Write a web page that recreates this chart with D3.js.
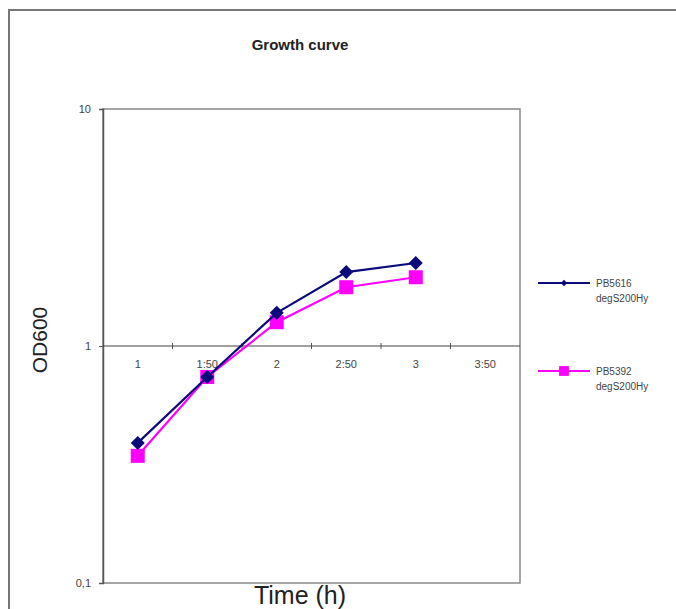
<!DOCTYPE html>
<html>
<head>
<meta charset="utf-8">
<script src="https://cdn.jsdelivr.net/npm/d3@7"></script>
<style>
body { margin: 0; background: #fff; }
svg { font-family: Arial, "Liberation Sans", sans-serif; }
</style>
</head>
<body>
<div class="chart"></div>
<script>
// chart data
var categories = ["1", "1:50", "2", "2:50", "3", "3:50"];
var seriesNames = ["PB5616 degS200Hy", "PB5392 degS200Hy"];
var pb5616 = [0.39, 0.74, 1.38, 2.05, 2.24];
var pb5392 = [0.344, 0.74, 1.26, 1.77, 1.95];
var yTicks = [0.1, 1, 10];
var yTickLabels = ["0,1", "1", "10"];

var width = 676, height = 609;
var plot = { left: 103, top: 109, right: 520, bottom: 583 };

var svg = d3.select(".chart").append("svg")
	.attr("width", width)
	.attr("height", height);

// outer chart frame
svg.append("path")
	.attr("d", "M9," + height + "V10H" + width)
	.attr("fill", "none")
	.attr("stroke", "#777")
	.attr("stroke-width", 2);

var x = d3.scaleBand()
	.domain(categories)
	.range([plot.left, plot.right]);

var y = d3.scaleLog()
	.domain([0.1, 10])
	.range([plot.bottom, plot.top]);

// plot area border
svg.append("rect")
	.attr("x", plot.left)
	.attr("y", plot.top)
	.attr("width", plot.right - plot.left)
	.attr("height", plot.bottom - plot.top)
	.attr("fill", "none")
	.attr("stroke", "#888")
	.attr("stroke-width", 1.5);

// y axis
var yAxis = svg.append("g")
	.attr("transform", "translate(" + plot.left + ",0)")
	.call(d3.axisLeft(y).tickValues(yTicks).tickSize(4).tickFormat(function(d, i) { return yTickLabels[i]; }));
yAxis.select(".domain").attr("stroke", "#555").attr("stroke-width", 1.5);
yAxis.selectAll(".tick line").attr("stroke", "#555");
yAxis.selectAll("text")
	.attr("fill", "#444")
	.attr("font-size", 11)
	.attr("x", -12);

// x axis crossing at 1
var xAxisY = y(1);
var xg = svg.append("g").attr("transform", "translate(0," + xAxisY + ")");
xg.append("line")
	.attr("x1", plot.left).attr("x2", plot.right)
	.attr("stroke", "#444").attr("stroke-width", 1.2);
xg.selectAll(".tk")
	.data(categories.slice(1))
	.enter().append("line")
	.attr("x1", function(d) { return x(d); })
	.attr("x2", function(d) { return x(d); })
	.attr("y1", -3).attr("y2", 3)
	.attr("stroke", "#555");
xg.selectAll("text")
	.data(categories)
	.enter().append("text")
	.attr("x", function(d) { return x(d) + x.bandwidth() / 2; })
	.attr("y", 22)
	.attr("text-anchor", "middle")
	.attr("font-size", 11)
	.attr("fill", "#444")
	.text(function(d) { return d; });

// lines
var line = d3.line()
	.x(function(d, i) { return x(categories[i]) + x.bandwidth() / 2; })
	.y(function(d) { return y(d); });

var series = [
	{ name: seriesNames[0], values: pb5616, color: "#0a0a7a", marker: "diamond" },
	{ name: seriesNames[1], values: pb5392, color: "#ff00ff", marker: "square" }
];

function drawMarker(g, type, color) {
	if (type === "square") {
		g.append("rect")
			.attr("x", -7).attr("y", -7)
			.attr("width", 14).attr("height", 14)
			.attr("fill", color);
	} else {
		g.append("path")
			.attr("d", "M0,-7L7,0L0,7L-7,0Z")
			.attr("fill", color);
	}
}

// draw magenta first, blue on top
[series[1], series[0]].forEach(function(s) {
	svg.append("path")
		.datum(s.values)
		.attr("d", line)
		.attr("fill", "none")
		.attr("stroke", s.color)
		.attr("stroke-width", 2.2);
	s.values.forEach(function(v, i) {
		var g = svg.append("g")
			.attr("transform", "translate(" + (x(categories[i]) + x.bandwidth() / 2) + "," + y(v) + ")");
		drawMarker(g, s.marker, s.color);
	});
});

// legend
var legendY = [283, 371];
series.forEach(function(s, i) {
	var g = svg.append("g").attr("transform", "translate(538," + legendY[i] + ")");
	g.append("line")
		.attr("x1", 0).attr("x2", 52)
		.attr("stroke", s.color).attr("stroke-width", 2);
	var mg = g.append("g").attr("transform", "translate(26,0)" + (s.marker === "square" ? " scale(0.7)" : " scale(0.45)"));
	drawMarker(mg, s.marker, s.color);
	var parts = s.name.split(" ");
	g.append("text").attr("x", 58).attr("y", 4)
		.attr("font-size", 10).attr("fill", "#444").text(parts[0]);
	g.append("text").attr("x", 58).attr("y", 19)
		.attr("font-size", 10).attr("fill", "#444").text(parts[1]);
});

// titles
svg.append("text")
	.attr("x", 300).attr("y", 50)
	.attr("text-anchor", "middle")
	.attr("font-size", 15)
	.attr("font-weight", "bold")
	.attr("fill", "#222")
	.text("Growth curve");

svg.append("text")
	.attr("transform", "translate(47," + 340 + ") rotate(-90)")
	.attr("text-anchor", "middle")
	.attr("font-size", 21)
	.attr("fill", "#222")
	.text("OD600");

svg.append("text")
	.attr("x", 300).attr("y", 604)
	.attr("text-anchor", "middle")
	.attr("font-size", 25)
	.attr("fill", "#222")
	.text("Time (h)");
</script>
</body>
</html>
